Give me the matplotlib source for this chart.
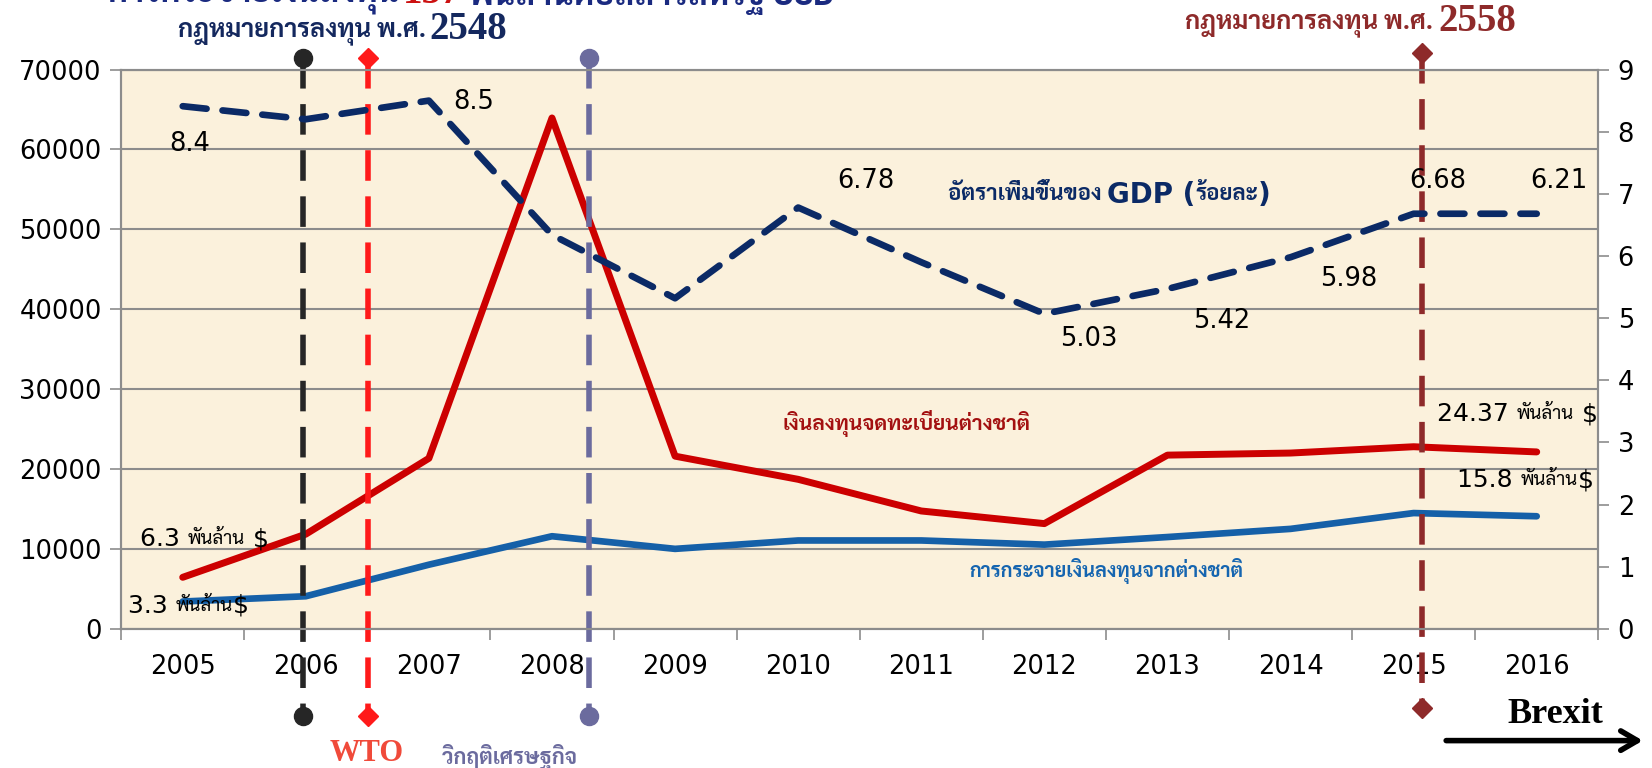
import matplotlib
matplotlib.use("Agg")
import matplotlib.pyplot as plt
import numpy as np

years = ["2005", "2006", "2007", "2008", "2009", "2010", "2011", "2012", "2013", "2014", "2015", "2016"]
registered = [6460, 11860, 21350, 63940, 21620, 18720, 14760, 13180, 21750, 22010, 22800, 22150]
distributed = [3430, 4090, 8040, 11600, 10020, 11070, 11070, 10550, 11500, 12520, 14500, 14100]
gdp_growth = [8.41, 8.20, 8.50, 6.34, 5.32, 6.78, 5.90, 5.07, 5.47, 5.98, 6.68, 6.68]
gdp_labels = ["8.4", "8.5", "6.78", "5.03", "5.42", "5.98", "6.68", "6.21"]

THAI = ["Sarabun", "Athiti", "DejaVu Sans"]
SERIF = ["Liberation Serif", "DejaVu Serif"]

W, H = 1568.0, 729.0  # reference layout units


def fx(x):
    return x / W


def fy(y):
    return 1 - y / H


fig = plt.figure(figsize=(16.52, 7.68), dpi=100)
renderer = fig.canvas.get_renderer()


def seq_text(xc, y, parts):
    # lay out several text pieces side by side, centred on xc
    texts = []
    for s, kw in parts:
        texts.append(fig.text(0, fy(y), s, va="center", ha="left", **kw))
    widths = [t.get_window_extent(renderer).width / fig.bbox.width for t in texts]
    x0 = fx(xc) - sum(widths) / 2
    for t, w in zip(texts, widths):
        t.set_x(x0)
        x0 += w


ax = fig.add_axes([fx(115), fy(597), fx(1517) - fx(115), fy(66) - fy(597)])
ax2 = ax.twinx()

x = np.arange(len(years))
ax.set_facecolor("#FBF1DC")
ax.set_xlim(-0.5, len(years) - 0.5)
ax.set_ylim(0, 70000)
ax2.set_ylim(0, 9)
ax.set_yticks(range(0, 70001, 10000))
ax2.set_yticks(range(0, 10))
ax.grid(axis="y", color="#8c8c8c", lw=1.5)
ax.set_axisbelow(True)

ax.set_xticks(x)
ax.set_xticklabels(years)
ax.set_xticks(np.arange(-0.5, len(years)), minor=True)
ax.tick_params(axis="x", which="major", length=0, pad=18, labelsize=18.5)
ax.tick_params(axis="x", which="minor", length=8, color="#8c8c8c", width=1.2)
ax.tick_params(axis="y", length=8, color="#8c8c8c", width=1.2, labelsize=18.5, pad=6)
ax2.tick_params(axis="y", length=8, color="#8c8c8c", width=1.2, labelsize=18.5, pad=6)
for a in (ax, ax2):
    for s in a.spines.values():
        s.set_color("#8c8c8c")
        s.set_linewidth(1.5)

ax.plot(x, registered, color="#CC0000", lw=5, solid_capstyle="round", zorder=4)
ax.plot(x, distributed, color="#1560A8", lw=4.8, solid_capstyle="round", zorder=4)
ax2.plot(x, gdp_growth, color="#0B2A66", lw=4.8, ls=(0, (3.6, 2.4)),
         dash_capstyle="round", zorder=4)

# event markers
events = [
    (0.975, "#262626", "o", 1.021, -0.156),
    (1.505, "#FF1A1A", "D", 1.021, -0.156),
    (3.30, "#6B6B9E", "o", 1.021, -0.156),
    (10.07, "#8E2A2A", "D", 1.030, -0.141),
]
tr = ax.get_xaxis_transform()
for ex, col, mk, ytop, ybot in events:
    ax.plot([ex, ex], [ytop, ybot], transform=tr, color=col, lw=4,
            ls=(0, (5.5, 2.8)), clip_on=False, zorder=6)
    ms = 13 if mk == "o" else 10
    ax.plot([ex, ex], [ytop, ybot], transform=tr, color=col, ls="none",
            marker=mk, ms=ms, clip_on=False, zorder=7)

# gdp value labels
gdp_pos = [(180, 137), (450, 97), (822, 172), (1033, 322), (1160, 305),
           (1280, 265), (1365, 172), (1480, 172)]
for lab, (px, py) in zip(gdp_labels, gdp_pos):
    fig.text(fx(px), fy(py), lab, fontsize=18.5, ha="center", va="center")

# investment labels
num = dict(fontsize=18)
thb = dict(family=THAI, fontsize=13.5)
seq_text(194, 512, [("6.3 ", num), ("พันล้าน", thb), (" $", num)])
seq_text(179, 575, [("3.3 ", num), ("พันล้าน", thb), ("$", num)])
seq_text(1440, 393, [("24.37 ", num), ("พันล้าน", thb), (" $", num)])
seq_text(1448, 456, [("15.8 ", num), ("พันล้าน", thb), ("$", num)])

# series labels
gth = dict(family=THAI, fontsize=16, weight="bold", color="#0B2A66")
gsa = dict(fontsize=20, weight="bold", color="#0B2A66")
seq_text(1053, 185, [("อัตราเพิ่มขึ้นของ ", gth), ("GDP (", gsa), ("ร้อยละ", gth), (")", gsa)])
fig.text(fx(860), fy(402), "เงินลงทุนจดทะเบียนต่างชาติ", family=THAI, fontsize=15,
         weight="bold", color="#A31010", ha="center", va="center")
fig.text(fx(1050), fy(542), "การกระจายเงินลงทุนจากต่างชาติ", family=THAI, fontsize=14.3,
         weight="bold", color="#1565B0", ha="center", va="center")

# law annotations
fig.text(fx(404), fy(31), "กฎหมายการลงทุน พ.ศ.", family=THAI, fontsize=18.3,
         weight="bold", color="#14285E", ha="right", va="center")
fig.text(fx(408), fy(28), "2548", family=SERIF, fontsize=28,
         weight="bold", color="#14285E", ha="left", va="center")
fig.text(fx(1360), fy(23), "กฎหมายการลงทุน พ.ศ.", family=THAI, fontsize=18.3,
         weight="bold", color="#8E2A2A", ha="right", va="center")
fig.text(fx(1365), fy(20), "2558", family=SERIF, fontsize=28,
         weight="bold", color="#8E2A2A", ha="left", va="center")

# title, cut off at the top edge as in the source slide
fig.text(fx(380), fy(-6), "การกระจายเงินลงทุน", family=THAI, fontsize=24,
         weight="bold", color="#1A2A80", ha="right", va="center")
fig.text(fx(410), fy(-6), "157", family=SERIF, fontsize=28,
         weight="bold", color="#CC1111", ha="center", va="center")
fig.text(fx(445), fy(-6), "พันล้านดอลลาร์สหรัฐ USD", family=THAI, fontsize=24,
         weight="bold", color="#1A2A80", ha="left", va="center")

# event names
fig.text(fx(348), fy(715), "WTO", family=SERIF, fontsize=22, weight="bold",
         color="#F04A3A", ha="center", va="center")
fig.text(fx(484), fy(718), "วิกฤติเศรษฐกิจ", family=THAI, fontsize=15.5, weight="bold",
         color="#6B6B9E", ha="center", va="center")
fig.text(fx(1476), fy(678), "Brexit", family=SERIF, fontsize=26, weight="bold",
         color="black", ha="center", va="center")
fig.add_artist(matplotlib.patches.FancyArrowPatch(
    (fx(1370), fy(703)), (fx(1562), fy(703)), transform=fig.transFigure,
    arrowstyle="->,head_length=12,head_width=7", color="black", lw=4,
    mutation_scale=1))

fig.savefig("out.png", dpi=100)
